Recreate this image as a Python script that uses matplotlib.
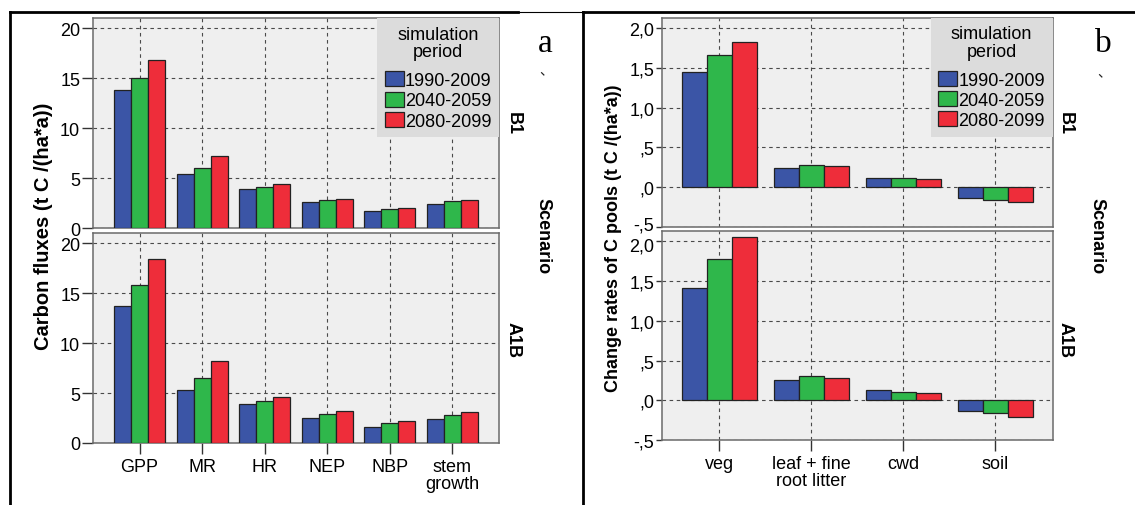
import matplotlib
matplotlib.use("Agg")
import matplotlib.pyplot as plt
from matplotlib.lines import Line2D
from matplotlib.patches import Patch
from matplotlib.transforms import ScaledTranslation
import numpy as np

plt.rcParams['font.family'] = ['Liberation Sans', 'DejaVu Sans']

# ---- data ----
periods = ["1990-2009", "2040-2059", "2080-2099"]
colors = ["#3b55a6", "#2fb74b", "#ee2d3a"]

flux_cats = ["GPP", "MR", "HR", "NEP", "NBP", "stem\ngrowth"]
flux_b1_1990 = [13.8, 5.4, 3.9, 2.6, 1.7, 2.45]
flux_b1_2040 = [15.0, 6.0, 4.1, 2.8, 1.9, 2.7]
flux_b1_2080 = [16.8, 7.2, 4.4, 2.9, 2.0, 2.85]
flux_a1b_1990 = [13.7, 5.35, 3.9, 2.55, 1.65, 2.45]
flux_a1b_2040 = [15.8, 6.5, 4.25, 2.95, 2.05, 2.8]
flux_a1b_2080 = [18.4, 8.25, 4.65, 3.2, 2.2, 3.1]

pool_cats = ["veg", "leaf + fine\nroot litter", "cwd", "soil"]
pool_b1_1990 = [1.45, 0.245, 0.115, -0.14]
pool_b1_2040 = [1.66, 0.28, 0.11, -0.16]
pool_b1_2080 = [1.82, 0.265, 0.105, -0.185]
pool_a1b_1990 = [1.41, 0.25, 0.13, -0.135]
pool_a1b_2040 = [1.78, 0.30, 0.11, -0.165]
pool_a1b_2080 = [2.05, 0.285, 0.095, -0.215]

flux_ticks = [0, 5, 10, 15, 20]
flux_ticklabels = ["0", "5", "10", "15", "20"]
pool_ticks = [-0.5, 0.0, 0.5, 1.0, 1.5, 2.0]
pool_ticklabels = ["-,5", ",0", ",5", "1,0", "1,5", "2,0"]

# ---- layout helpers (pixel geometry) ----
W, H = 1135, 506
FS = 13

fig = plt.figure(figsize=(W / 100, H / 100), dpi=100)


def add_ax(left, right, top, bottom):
    return fig.add_axes([left / W, 1 - bottom / H, (right - left) / W, (bottom - top) / H])


def style_panel(ax, cats, xlim, ylim, ticks, ticklabels, show_x, ytick_len):
    ax.set_facecolor("#efefef")
    ax.set_xlim(*xlim)
    ax.set_ylim(*ylim)
    ax.set_yticks(ticks)
    ax.set_yticklabels(ticklabels, fontsize=FS)
    ax.set_xticks(np.arange(len(cats)))
    ax.set_axisbelow(True)
    ax.grid(True, linestyle=(0, (3.2, 3.2)), color="#4a4a4a", linewidth=0.8)
    for s in ax.spines.values():
        s.set_color("#6a6a6a")
        s.set_linewidth(1.1)
    ax.tick_params(axis="y", length=ytick_len, width=1.0, color="#333333", pad=1)
    if show_x:
        ax.set_xticklabels(cats, fontsize=FS, linespacing=0.95)
        ax.tick_params(axis="x", length=8, width=1.0, color="#333333", pad=3)
    else:
        ax.tick_params(axis="x", bottom=False, labelbottom=False)


def draw_bars(ax, series, w=0.273):
    x = np.arange(len(series[0]))
    for k, (vals, c) in enumerate(zip(series, colors)):
        ax.bar(x + (k - 1) * w, vals, width=w, color=c, edgecolor="#222222",
               linewidth=0.9, zorder=3)


def add_legend(ax):
    handles = [Patch(facecolor=c, edgecolor="#222222", linewidth=0.9) for c in colors]
    leg = ax.legend(handles, periods, title="simulation\nperiod", loc="upper right",
                    bbox_to_anchor=(1.0, 1.0), borderaxespad=0.0, frameon=True,
                    fancybox=False, facecolor="#dcdcdc", edgecolor="none",
                    framealpha=1.0, fontsize=FS, title_fontsize=FS,
                    handlelength=1.05, handleheight=0.9, handletextpad=0.08,
                    labelspacing=0.14, borderpad=0.42)
    leg.get_title().set_multialignment("center")
    leg.get_title().set_linespacing(1.05)
    leg._legend_box.sep = 8
    leg.get_frame().set_linewidth(0)
    leg.set_zorder(5)


# ---- panel a: carbon fluxes ----
ax_a1 = add_ax(92.7, 499.3, 19, 229.3)
ax_a2 = add_ax(92.7, 499.3, 234.3, 444)
for ax, show in [(ax_a1, False), (ax_a2, True)]:
    style_panel(ax, flux_cats, (-0.75, 5.75), (0, 21), flux_ticks, flux_ticklabels, show, 8)
draw_bars(ax_a1, [flux_b1_1990, flux_b1_2040, flux_b1_2080])
draw_bars(ax_a2, [flux_a1b_1990, flux_a1b_2040, flux_a1b_2080])
add_legend(ax_a1)

# ---- panel b: change rates of C pools ----
ax_b1 = add_ax(662, 1052.7, 18.5, 228)
ax_b2 = add_ax(662, 1052.7, 232, 441)
for ax, show in [(ax_b1, False), (ax_b2, True)]:
    style_panel(ax, pool_cats, (-0.625, 3.625), (-0.5, 2.13), pool_ticks, pool_ticklabels, show, 4.5)
draw_bars(ax_b1, [pool_b1_1990, pool_b1_2040, pool_b1_2080])
draw_bars(ax_b2, [pool_a1b_1990, pool_a1b_2040, pool_a1b_2080])
add_legend(ax_b1)

# keep the stacked "-,5" / "2,0" labels between the b panels apart
lbl_low = ax_b1.get_yticklabels()[0]
lbl_low.set_transform(lbl_low.get_transform() + ScaledTranslation(0, 3 / 72, fig.dpi_scale_trans))
lbl_high = ax_b2.get_yticklabels()[-1]
lbl_high.set_transform(lbl_high.get_transform() + ScaledTranslation(0, -2 / 72, fig.dpi_scale_trans))


def ftext(x, y, s, **kw):
    fig.text(x / W, 1 - y / H, s, ha="center", va="center", **kw)


# axis titles
ftext(44, 226, "Carbon fluxes (t C /(ha*a))", rotation=90, fontsize=14.5, fontweight="bold")
ftext(613, 238, "Change rates of C pools (t C /(ha*a))", rotation=90, fontsize=13, fontweight="bold")

# scenario facet labels
for x_lab, x_sc in [(513, 543), (1065, 1097)]:
    ftext(x_lab, 124, "B1", rotation=-90, fontsize=FS, fontweight="bold")
    ftext(x_lab, 340, "A1B", rotation=-90, fontsize=FS, fontweight="bold")
    ftext(x_sc, 236, "Scenario", rotation=-90, fontsize=FS, fontweight="bold")

# panel letters
ftext(545, 44, "a", fontsize=24, family=["Liberation Serif"])
ftext(1103, 44, "b", fontsize=24, family=["Liberation Serif"])
ftext(546, 70, "、", fontsize=10, family=["Noto Sans CJK SC", "DejaVu Sans"], color="#222222")
ftext(1104, 72, "、", fontsize=10, family=["Noto Sans CJK SC", "DejaVu Sans"], color="#222222")


# surrounding frame lines
def fline(x0, y0, x1, y1, lw):
    fig.add_artist(Line2D([x0 / W, x1 / W], [1 - y0 / H, 1 - y1 / H],
                          transform=fig.transFigure, color="black", linewidth=lw))


fline(10, 13, 518, 13, 2.0)
fline(518, 13, 582.5, 13, 0.8)
fline(582.5, 13, W, 13, 2.0)
fline(10, 13, 10, H, 2.0)
fline(582.5, 13, 582.5, H, 2.0)

fig.savefig("out.png", dpi=100)
